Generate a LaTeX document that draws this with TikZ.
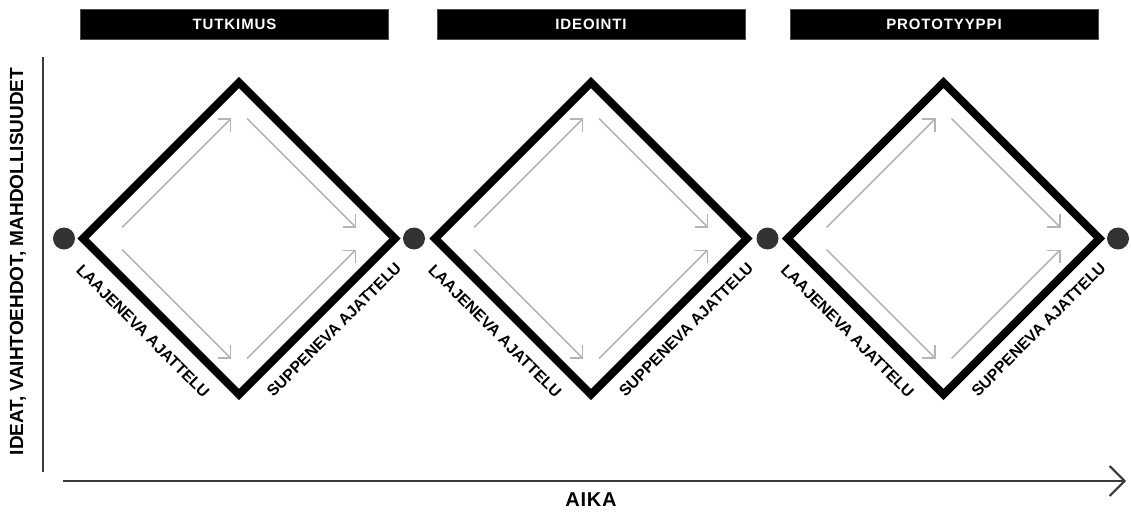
\documentclass[tikz,border=0pt]{standalone}
\usepackage{fontspec}
\setmainfont{Liberation Sans}
\usetikzlibrary{arrows.meta,calc}
\definecolor{dotgray}{HTML}{333333}
\definecolor{flowgray}{HTML}{B4B4B4}
\definecolor{axisgray}{HTML}{3A3A3A}
\begin{document}
\begin{tikzpicture}[x=1pt,y=-1pt,
  phase/.style={fill=black, draw=black!70, line width=0.6pt,
    minimum width=308pt, minimum height=30pt, inner sep=0pt, text=white,
    font=\fontsize{15}{15}\selectfont\bfseries\addfontfeature{LetterSpace=6}},
  diamondedge/.style={line width=8pt, draw=black, line join=miter},
  junction/.style={circle, fill=dotgray, minimum size=22pt, inner sep=0pt},
  flow/.style={draw=flowgray, line width=1.5pt, -{Straight Barb[length=9pt,width=18pt]}},
  diaglabel/.style={inner sep=0pt, font=\fontsize{15.8}{15.8}\selectfont\bfseries},
  axisline/.style={draw=axisgray, line width=2pt},
  axislabel/.style={inner sep=0pt, font=\fontsize{19}{19}\selectfont\bfseries},
  timelabel/.style={inner sep=0pt,
    font=\fontsize{20}{20}\selectfont\bfseries\addfontfeature{LetterSpace=4}}
]
\useasboundingbox (0,0) rectangle (1131,513);

% phase headers
\node[phase] (h1) at (234.5,24) {TUTKIMUS};
\node[phase] (h2) at (591,24) {IDEOINTI};
\node[phase] (h3) at (944,24) {PROTOTYYPPI};

% the three diamonds with their flow arrows and side labels
\foreach \i/\cx in {1/239, 2/591, 3/943.5} {
  \coordinate (c\i) at (\cx,238.5);
  \coordinate (l\i) at ($(c\i)+(-156,0)$);
  \coordinate (t\i) at ($(c\i)+(0,-156)$);
  \coordinate (r\i) at ($(c\i)+(156,0)$);
  \coordinate (b\i) at ($(c\i)+(0,156)$);
  \draw[diamondedge] (l\i) -- (t\i) -- (r\i) -- (b\i) -- cycle;
  \draw[flow] ($(c\i)+(-117,-11)$) -- ($(c\i)+(-8,-120)$);
  \draw[flow] ($(c\i)+(8,-120)$) -- ($(c\i)+(117,-11)$);
  \draw[flow] ($(c\i)+(-117,11)$) -- ($(c\i)+(-8,120)$);
  \draw[flow] ($(c\i)+(8,120)$) -- ($(c\i)+(117,11)$);
  \node[diaglabel, rotate=-45] (lab-l\i) at ($(c\i)+(-96,92.5)$) {LAAJENEVA AJATTELU};
  \node[diaglabel, rotate=45] (lab-r\i) at ($(c\i)+(95,91)$) {SUPPENEVA AJATTELU};
}

% junction points between the stages
\node[junction] (p0) at (64,238.5) {};
\node[junction] (p1) at (414,238.5) {};
\node[junction] (p2) at (767.5,238.5) {};
\node[junction] (p3) at (1118,238.5) {};

% axes
\coordinate (ytop) at (43,57);
\coordinate (ybot) at (43,472);
\draw[axisline] (ybot) -- (ytop);
\coordinate (xstart) at (63,481);
\coordinate (xend) at (1126,481);
\draw[axisline, -{Straight Barb[length=15pt,width=30pt]}] (xstart) -- (xend);

\node[axislabel, rotate=90] (ylab) at (18,261.5) {IDEAT, VAIHTOEHDOT, MAHDOLLISUUDET};
\node[timelabel] (xlab) at (591,500) {AIKA};
\end{tikzpicture}
\end{document}
